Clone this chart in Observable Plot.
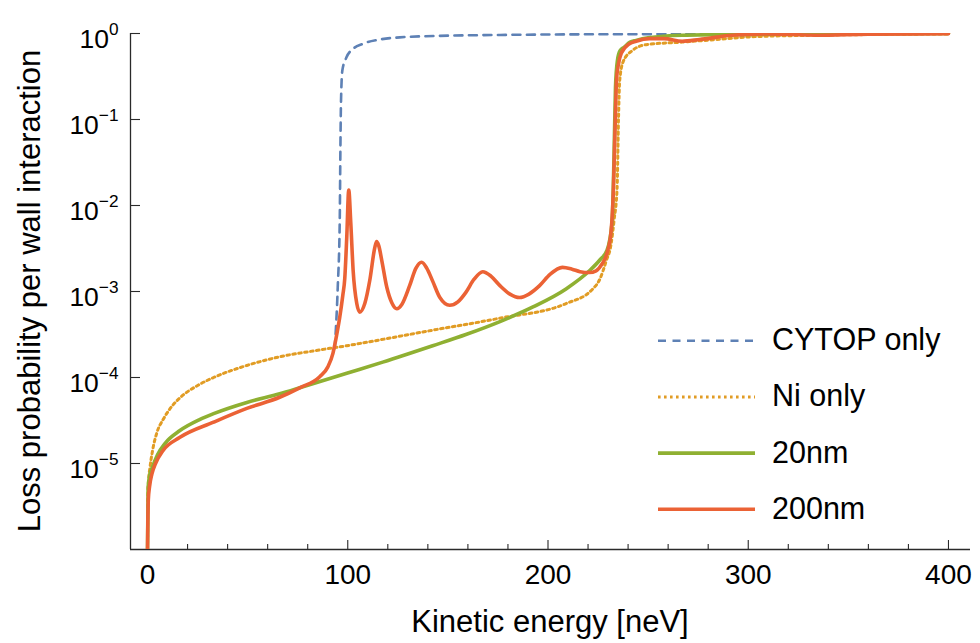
<!DOCTYPE html>
<html>
<head>
<meta charset="utf-8">
<script src="https://cdn.jsdelivr.net/npm/d3@7"></script>
<script src="https://cdn.jsdelivr.net/npm/@observablehq/plot@0.6"></script>
<style>
  html, body { margin: 0; padding: 0; background: #fff; }
</style>
</head>
<body>
<div id="chart"></div>
<script>
// ---- Data (kinetic energy in neV, loss probability) ----
const energyCytop = [93.5, 95, 96, 96.3, 96.6, 97.3, 99.3, 102.6, 107.5, 116, 126, 150, 176, 200, 250, 300, 350, 400];
const probCytop   = [2.19e-4, 1.12e-3, 6.76e-3, 0.0398, 0.151, 0.372, 0.525, 0.661, 0.759, 0.851, 0.902, 0.944, 0.962, 0.973, 0.984, 0.991, 0.995, 0.998];

const energyNi = [0, 0.1, 0.5, 1.2, 2.5, 4.7, 8, 12.7, 16, 26, 33, 49.6, 66, 83, 99.5, 109.5, 142.4, 176, 209, 222, 226, 229, 231.5, 233, 234.5, 235.2, 235.8, 237.5, 242, 249, 267, 284, 300, 334, 370, 400];
const probNi   = [1e-6, 3.98e-6, 6.31e-6, 8.91e-6, 1.41e-5, 2.29e-5, 3.31e-5, 4.79e-5, 5.75e-5, 8.32e-5, 1.0e-4, 1.38e-4, 1.74e-4, 2.04e-4, 2.34e-4, 2.57e-4, 3.55e-4, 4.90e-4, 7.24e-4, 1.05e-3, 1.41e-3, 2.24e-3, 3.55e-3, 6.76e-3, 1.58e-2, 0.1, 0.282, 0.468, 0.631, 0.741, 0.794, 0.851, 0.912, 0.955, 0.977, 0.989];

const energy20 = [0, 0.3, 1, 2.5, 5, 9, 16, 26, 33, 49.6, 66, 76, 99.5, 117.5, 142.4, 159, 176, 192.5, 209, 220.7, 226, 229.5, 232, 233, 233.7, 234.7, 236, 238, 241, 244, 250, 267, 300, 350, 400];
const prob20   = [1e-6, 5.25e-6, 7.08e-6, 9.12e-6, 1.26e-5, 1.74e-5, 2.40e-5, 3.24e-5, 3.80e-5, 5.13e-5, 6.46e-5, 7.59e-5, 1.12e-4, 1.51e-4, 2.34e-4, 3.16e-4, 4.47e-4, 6.61e-4, 1.07e-3, 1.74e-3, 2.34e-3, 3.02e-3, 6.31e-3, 0.0398, 0.234, 0.490, 0.631, 0.692, 0.794, 0.832, 0.891, 0.955, 0.977, 0.989, 1.0];

const energy200 = [0, 0.15, 0.4, 1, 2.2, 4, 7.7, 16, 33, 49.6, 66, 76, 86, 90, 92.6, 94.5, 96, 97.5, 98.5, 99.5, 100.5, 101.5, 102.7, 104.5, 106, 108.5, 111, 113.5, 114.4, 115.5, 117, 119.5, 122, 124.5, 127, 130.9, 134, 136.9, 139.5, 142.4, 146, 150.9, 155, 159, 163, 167.4, 171.5, 176, 181, 185.8, 190.5, 195.8, 201, 207.2, 212, 216, 220.7, 224, 227, 229.5, 231.5, 232.7, 233.6, 234.2, 235, 236.6, 240.7, 244, 250.6, 258, 267, 275.6, 292, 310, 334, 360, 400];
const prob200   = [1e-6, 2.0e-6, 3.8e-6, 5.37e-6, 7.59e-6, 1.0e-5, 1.41e-5, 2.0e-5, 3.02e-5, 4.37e-5, 5.89e-5, 7.59e-5, 1.02e-4, 1.32e-4, 1.91e-4, 3.16e-4, 5.01e-4, 8.91e-4, 1.41e-3, 4.27e-3, 1.51e-2, 6.31e-3, 1.74e-3, 7.24e-4, 5.75e-4, 7.24e-4, 1.35e-3, 3.24e-3, 3.80e-3, 3.39e-3, 2.29e-3, 1.12e-3, 7.41e-4, 6.31e-4, 7.08e-4, 1.17e-3, 1.86e-3, 2.19e-3, 1.86e-3, 1.32e-3, 8.51e-4, 6.92e-4, 7.59e-4, 9.77e-4, 1.38e-3, 1.70e-3, 1.51e-3, 1.17e-3, 9.33e-4, 8.51e-4, 9.33e-4, 1.17e-3, 1.58e-3, 1.91e-3, 1.82e-3, 1.70e-3, 1.66e-3, 1.74e-3, 2.09e-3, 2.82e-3, 5.01e-3, 1.62e-2, 0.0977, 0.282, 0.417, 0.589, 0.759, 0.813, 0.871, 0.871, 0.813, 0.851, 0.955, 0.989, 0.955, 0.982, 0.993];

const seriesNames  = ["CYTOP only", "Ni only", "20nm", "200nm"];
const seriesColors = ["#5E81B5", "#E19C24", "#8FB032", "#EB6235"];

const xMajorTicks = [0, 100, 200, 300, 400];
const xMinorTicks = [20, 40, 60, 80, 120, 140, 160, 180, 220, 240, 260, 280, 320, 340, 360, 380];
const yTicks = [1e-5, 1e-4, 1e-3, 1e-2, 1e-1, 1];
const xDomain = [-8.5, 411];
const yDomain = [1e-6, 1];

const xTitle = "Kinetic energy [neV]";
const yTitle = "Loss probability per wall interaction";

// ---- build tables ----
const toRows = (E, P) => E.map((e, i) => ({E: e, P: P[i]}));
const cytop = toRows(energyCytop, probCytop);
const ni = toRows(energyNi, probNi);
const nm20 = toRows(energy20, prob20);
const nm200 = toRows(energy200, prob200);

const FONT = "'Liberation Sans', Arial, Helvetica, sans-serif";
const AXIS = "#2a2a2a";
const dashes = ["8,6.5", "2.6,3.4", null, null];
const widths = [2.6, 3, 3.6, 3.6];

const chart = Plot.plot({
  width: 980,
  height: 643,
  marginTop: 33,
  marginBottom: 94,
  marginLeft: 130,
  marginRight: 10,
  style: {fontFamily: FONT, color: "#000", background: "#fff", overflow: "visible"},
  x: {domain: xDomain},
  y: {type: "log", domain: yDomain},
  marks: [
    // axis lines
    Plot.ruleX([xDomain[0]], {stroke: AXIS, strokeWidth: 1.3}),
    Plot.ruleY([yDomain[0]], {stroke: AXIS, strokeWidth: 1.3}),
    // inward ticks (no labels)
    Plot.axisX(xMinorTicks, {tickSize: -5, tickFormat: () => "", label: null, stroke: AXIS, strokeWidth: 1.1}),
    Plot.axisX(xMajorTicks, {tickSize: -9, tickFormat: () => "", label: null, stroke: AXIS, strokeWidth: 1.1}),
    Plot.axisY(yTicks, {tickSize: -10, tickFormat: () => "", label: null, stroke: AXIS, strokeWidth: 1.1}),
    // tick labels
    Plot.axisX(xMajorTicks, {tickSize: 0, tickPadding: 15, fontSize: 28, label: null, tickFormat: d => String(d)}),
    Plot.axisY(yTicks, {tickSize: 0, tickPadding: 12, fontSize: 26.5, label: null, tickFormat: d => String(Math.round(Math.log10(d)))}),
    // curves
    Plot.line(cytop, {x: "E", y: "P", stroke: seriesColors[0], strokeWidth: widths[0], strokeDasharray: dashes[0], curve: "monotone-x", clip: true}),
    Plot.line(ni, {x: "E", y: "P", stroke: seriesColors[1], strokeWidth: widths[1], strokeDasharray: dashes[1], curve: "monotone-x", clip: true}),
    Plot.line(nm20, {x: "E", y: "P", stroke: seriesColors[2], strokeWidth: widths[2], curve: "monotone-x", clip: true}),
    Plot.line(nm200, {x: "E", y: "P", stroke: seriesColors[3], strokeWidth: widths[3], curve: "monotone-x", clip: true})
  ]
});

const svg = d3.select(chart);

// superscript exponents on y tick labels (skip the empty labels of the tick-only axis)
svg.selectAll('g[aria-label="y-axis tick label"] text').each(function () {
  const raw = this.textContent;
  if (raw === "") { this.remove(); return; }
  const exp = raw.replace("-", "\u2212");
  const t = d3.select(this);
  t.text("10").attr("y", "0.54em");
  t.append("tspan").attr("dy", "-0.75em").attr("font-size", "0.65em").text(exp);
});
svg.selectAll('g[aria-label="x-axis tick label"] text').each(function () {
  if (this.textContent === "") this.remove();
});

// axis titles
svg.append("text")
  .attr("x", 550).attr("y", 632)
  .attr("text-anchor", "middle")
  .attr("font-family", FONT).attr("font-size", 31).attr("fill", "#000")
  .text(xTitle);
svg.append("text")
  .attr("transform", "translate(40,291) rotate(-90)")
  .attr("text-anchor", "middle")
  .attr("font-family", FONT).attr("font-size", 31).attr("fill", "#000")
  .text(yTitle);

// legend
const legend = svg.append("g").attr("aria-label", "legend");
seriesNames.forEach((name, i) => {
  const y = 340.7 + i * 56.2;
  legend.append("line")
    .attr("x1", 658).attr("x2", 755).attr("y1", y).attr("y2", y)
    .attr("stroke", seriesColors[i]).attr("stroke-width", widths[i])
    .attr("stroke-dasharray", dashes[i]);
  legend.append("text")
    .attr("x", 772).attr("y", y + 9.5)
    .attr("text-anchor", "start")
    .attr("font-family", FONT).attr("font-size", 30.5).attr("fill", "#000")
    .text(name);
});

document.getElementById("chart").appendChild(chart);
</script>
</body>
</html>
